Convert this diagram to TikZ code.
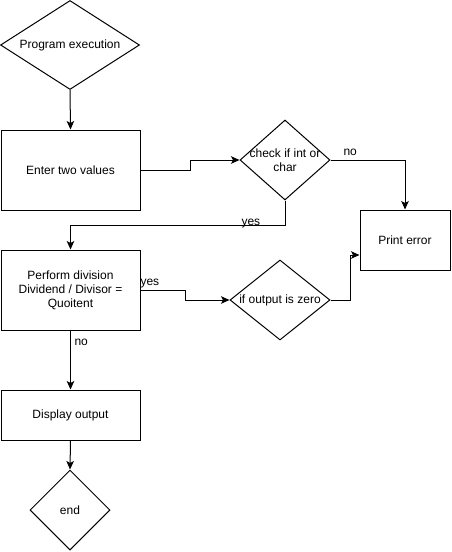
\documentclass[tikz,border=0pt]{standalone}
\usepackage{fontspec}
\setmainfont{Liberation Sans}
\usetikzlibrary{shapes.geometric,arrows.meta}
\begin{document}
\begin{tikzpicture}[x=1pt,y=-1pt,
  font=\fontsize{12}{14}\selectfont,
  line width=1pt,
  txt/.style={align=center,inner sep=0pt,font=\fontsize{12}{14}\selectfont},
  stepbox/.style={draw,rectangle,inner sep=0pt,align=center},
  decision/.style={draw,diamond,inner sep=0pt},
  flow/.style={draw,-{Stealth[length=8.5pt,width=7.5pt,inset=2pt]}},
  elabel/.style={inner sep=0pt,anchor=base west}]
\useasboundingbox (0,0) rectangle (451,552);

% nodes
\node[decision,minimum width=139,minimum height=89,
      label={[txt]center:Program execution}] (start) at (70,45) {};
\node[stepbox,minimum width=139,minimum height=80] (enter) at (70.5,170) {Enter two values};
\node[decision,minimum width=90,minimum height=80,
      label={[txt]center:check if int or\\char}] (check) at (285,160) {};
\node[stepbox,minimum width=90,minimum height=60] (err) at (405,240) {Print error};
\node[stepbox,minimum width=139,minimum height=80] (divide) at (70.5,290)
      {Perform division\\Dividend / Divisor =\\Quoitent};
\node[decision,minimum width=100,minimum height=80,
      label={[txt]center:if output is zero}] (zero) at (280,300) {};
\node[stepbox,minimum width=139,minimum height=50] (display) at (70.5,415) {Display output};
\node[decision,minimum width=80,minimum height=80,
      label={[txt]center:end}] (finish) at (70,510) {};

% connectors
\draw[flow] (start.south) -- (enter.north);
\draw[flow] (enter.east) -- ++(50,0) |- (check.west);
\draw[flow] (check.south) -- ++(0,25) -| (divide.north);
\draw[flow] (check.east) -| (err.north);
\draw[flow] (divide.east) -- ++(45,0) |- (zero.west);
\draw[flow] (zero.east) -- ++(20,0) |- ([yshift=-15pt]err.west);
\draw[flow] (divide.south) -- (display.north);
\draw[flow] (display.south) -- (finish.north);

% edge labels
\node[elabel] (lyes1) at (241,225) {yes};
\node[elabel] (lno1) at (343,155) {no};
\node[elabel] (lyes2) at (140,285) {yes};
\node[elabel] (lno2) at (74,345) {no};
\end{tikzpicture}
\end{document}
